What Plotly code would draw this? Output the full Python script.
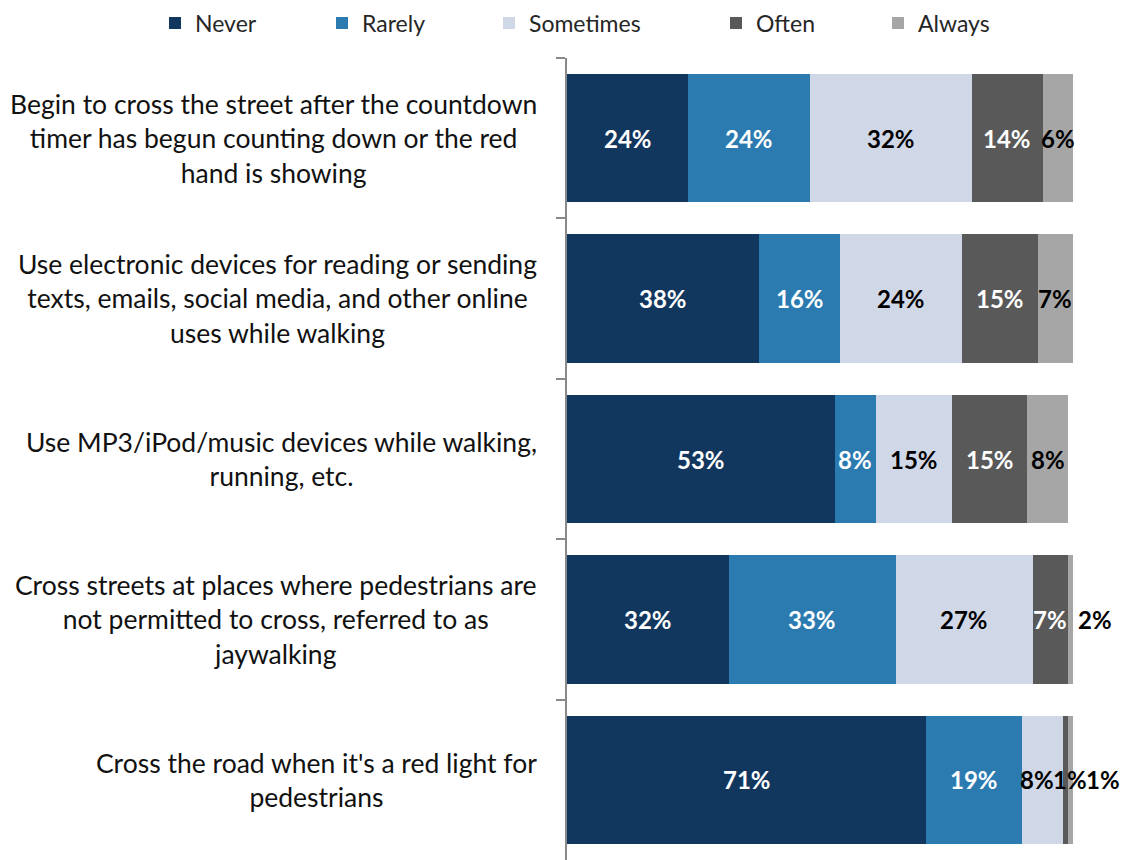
import plotly.graph_objects as go

category_lines = [
    ["Begin to cross the street after the countdown", "timer has begun counting down or the red", "hand is showing"],
    ["Use electronic devices for reading or sending", "texts, emails, social media, and other online", "uses while walking"],
    ["Use MP3/iPod/music devices while walking,", "running, etc."],
    ["Cross streets at places where pedestrians are", "not permitted to cross, referred to as", "jaywalking"],
    ["Cross the road when it's a red light for", "pedestrians"],
]
categories = [" ".join(l) for l in category_lines]

series_names = ["Never", "Rarely", "Sometimes", "Often", "Always"]
never = [24, 38, 53, 32, 71]
rarely = [24, 16, 8, 33, 19]
sometimes = [32, 24, 15, 27, 8]
often = [14, 15, 15, 7, 1]
always = [6, 7, 8, 2, 1]
series_values = [never, rarely, sometimes, often, always]

colors = ["#12375F", "#2B7BB1", "#D0D8E8", "#595959", "#A6A6A6"]
label_colors = ["white", "white", "black", "white", "black"]
# per-label pixel nudges (series index, row index) -> xshift, and colour overrides
label_shift = {(4, 3): 22, (2, 4): -6, (3, 4): 5, (4, 4): 33}
label_color_override = {(3, 4): "black"}

FONT = "Lato"

# page has an 8px body margin; figure sized to fit the window
W, H = 1122, 852
PL, PR, PT, PB = 559, 1065, 50, 852
pw = PR - PL
ph = PB - PT
legend_x_px = [147, 314, 481, 708, 870]

fig = go.Figure()
for i, (name, vals) in enumerate(zip(series_names, series_values)):
    lg = "legend" if i == 0 else f"legend{i+1}"
    fig.add_trace(go.Bar(
        y=categories, x=vals, name=name, orientation="h",
        marker=dict(color=colors[i], line=dict(width=0)),
        legend=lg, hoverinfo="x+name",
    ))

# data labels
cum = [0] * len(categories)
for i, vals in enumerate(series_values):
    for r, v in enumerate(vals):
        center = cum[r] + v / 2
        cum[r] += v
        fig.add_annotation(
            x=center, y=categories[r], xref="x", yref="y",
            text=f"<b>{v}%</b>", showarrow=False,
            xshift=label_shift.get((i, r), 0),
            font=dict(family=FONT, size=24, color=label_color_override.get((i, r), label_colors[i])),
        )

# category labels (multi-line, centred lines, right aligned block)
for r, lines in enumerate(category_lines):
    fig.add_annotation(
        x=0, y=categories[r], xref="paper", yref="y",
        xanchor="right", yanchor="middle", align="center",
        text="<br>".join(lines), showarrow=False, xshift=-28,
        font=dict(family=FONT, size=26.5, color="#111111"),
    )

layout_legends = {}
for i in range(5):
    key = "legend" if i == 0 else f"legend{i+1}"
    layout_legends[key] = dict(
        x=(legend_x_px[i] - PL) / pw, y=1 + (PT - 15) / ph,
        xanchor="left", yanchor="middle",
        font=dict(family=FONT, size=23, color="#262626"),
        bgcolor="rgba(0,0,0,0)", borderwidth=0,
    )

fig.update_layout(
    width=W, height=H,
    margin=dict(l=PL, r=W - PR, t=PT, b=H - PB, pad=0, autoexpand=False),
    barmode="stack", bargap=0.2,
    plot_bgcolor="white", paper_bgcolor="white",
    showlegend=True,
    font=dict(family=FONT),
    **layout_legends,
)
fig.update_xaxes(range=[0, 100], visible=False, showgrid=False)
fig.update_yaxes(
    autorange="reversed", showticklabels=False, showgrid=False,
    showline=True, linecolor="#898989", linewidth=1.5,
    ticks="outside", tickson="boundaries", ticklen=9, tickcolor="#898989", tickwidth=1.5,
)

fig.write_html("out.html")
